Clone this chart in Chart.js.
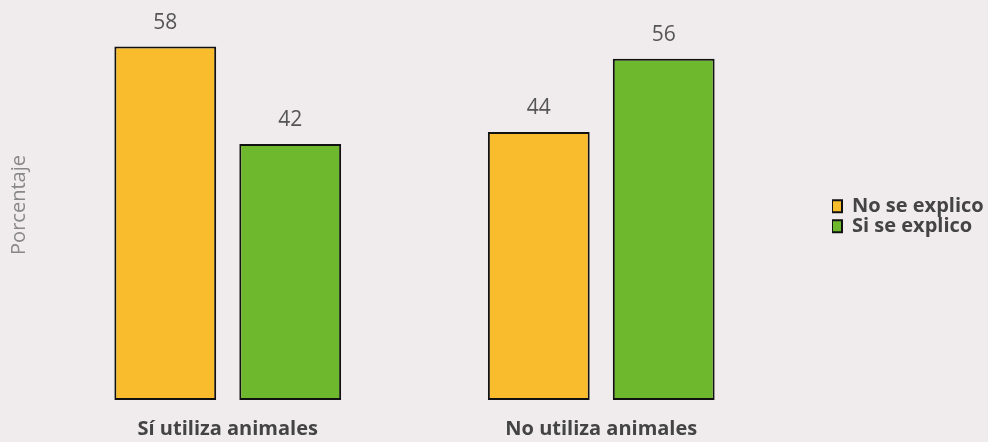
<!DOCTYPE html>
<html>
<head>
<meta charset="utf-8">
<script src="https://cdn.jsdelivr.net/npm/chart.js@4"></script>
<style>
  html, body { margin: 0; padding: 0; background: #f0eced; }
  #wrap { position: relative; width: 988px; height: 442px; }
</style>
</head>
<body>
<div id="wrap"><canvas id="chart" width="988" height="442"></canvas></div>
<script>
// datos
const categorias = ['Sí utiliza animales', 'No utiliza animales'];
const noSeExplico = [58, 44];
const siSeExplico = [42, 56];
const serieNombres = ['No se explico', 'Si se explico'];

// etiquetas de valor encima de cada barra
const valueLabels = {
  id: 'valueLabels',
  afterDatasetsDraw(chart) {
    const ctx = chart.ctx;
    ctx.save();
    ctx.font = '21px "Open Sans"';
    ctx.fillStyle = '#555555';
    ctx.textAlign = 'center';
    ctx.textBaseline = 'middle';
    chart.data.datasets.forEach((ds, i) => {
      chart.getDatasetMeta(i).data.forEach((bar, j) => {
        ctx.fillText(ds.data[j], bar.x, bar.y - 24);
      });
    });
    ctx.restore();
  }
};

new Chart(document.getElementById('chart'), {
  type: 'bar',
  data: {
    labels: categorias,
    datasets: [{
      label: serieNombres[0],
      data: noSeExplico,
      backgroundColor: '#f8bc2c',
      borderColor: '#111111',
      borderWidth: 2,
      borderSkipped: false,
      categoryPercentage: 0.669,
      barPercentage: 0.815
    }, {
      label: serieNombres[1],
      data: siSeExplico,
      backgroundColor: '#6eb82d',
      borderColor: '#111111',
      borderWidth: 2,
      borderSkipped: false,
      categoryPercentage: 0.669,
      barPercentage: 0.815
    }]
  },
  options: {
    responsive: false,
    animation: false,
    // el eje x cuenta dos veces el padding de las etiquetas, de ahi el valor negativo
    layout: { padding: { top: 10, right: 0, bottom: -16, left: 0 } },
    plugins: {
      legend: {
        position: 'right',
        fullSize: false,
        maxWidth: 156,
        title: { display: true, text: ' ', font: { size: 2 }, padding: 10 },
        labels: {
          font: { family: 'Open Sans', size: 20, weight: 'bold' },
          color: '#444444',
          boxWidth: 10,
          boxHeight: 12,
          padding: 0
        }
      },
      tooltip: { enabled: false }
    },
    scales: {
      x: {
        grid: { display: false, drawTicks: false },
        border: { display: false },
        ticks: {
          font: { family: 'Open Sans', size: 20, weight: 'bold' },
          color: '#444444',
          padding: 17,
          maxRotation: 0,
          minRotation: 0,
          autoSkip: false
        }
      },
      y: {
        min: 0,
        max: 64,
        grid: { display: false },
        border: { display: false },
        ticks: { display: false },
        title: {
          display: true,
          text: 'Porcentaje',
          color: '#888888',
          font: { family: 'Open Sans', size: 20 },
          padding: { top: 7, bottom: 0 }
        },
        afterFit(scale) { scale.width = 41; }
      },
      // eje vacio solo para dejar espacio antes de la leyenda
      hueco: {
        position: 'right',
        display: true,
        grid: { display: false },
        border: { display: false },
        ticks: { display: false },
        afterFit(scale) { scale.width = 44; }
      }
    }
  },
  plugins: [valueLabels]
});
</script>
</body>
</html>
